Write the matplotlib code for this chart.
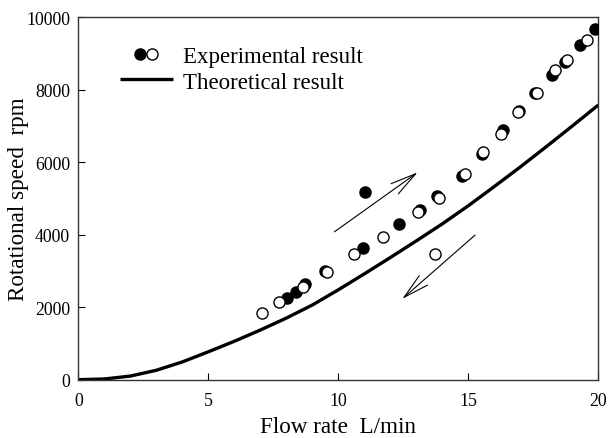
import matplotlib
matplotlib.use("Agg")
import matplotlib.pyplot as plt
from matplotlib.legend_handler import HandlerTuple
from matplotlib.lines import Line2D

plt.rcParams['font.family'] = ['Liberation Serif', 'DejaVu Serif']

# Theoretical result (curve)
theory_x = [0, 1, 2, 3, 4, 5, 6, 7, 8, 9, 10, 11, 12, 13, 14, 15, 16, 17, 18, 19, 20]
theory_y = [0, 20, 100, 260, 490, 770, 1060, 1370, 1700, 2060, 2480, 2920,
            3370, 3830, 4300, 4800, 5330, 5870, 6430, 7000, 7580]

# Experimental result (filled markers)
filled_x = [8.01, 8.36, 8.72, 9.47, 10.96, 11.03, 12.33, 13.14, 13.81, 14.75,
            15.52, 16.35, 16.96, 17.58, 18.21, 18.72, 19.30, 19.87]
filled_y = [2250, 2430, 2640, 2990, 3640, 5170, 4310, 4690, 5060, 5630,
            6230, 6900, 7420, 7920, 8410, 8780, 9240, 9680]

# Experimental result (open markers)
open_x = [7.05, 7.73, 8.63, 9.55, 10.62, 11.71, 13.08, 13.72, 13.88, 14.87,
          15.58, 16.25, 16.92, 17.63, 18.33, 18.78, 19.55]
open_y = [1840, 2140, 2560, 2970, 3470, 3930, 4620, 3480, 5010, 5680,
          6270, 6780, 7380, 7900, 8550, 8820, 9370]

# Direction arrows (tail -> head)
arrow_up = ((9.85, 4080), (13.05, 5720))
arrow_down = ((15.26, 3990), (12.46, 2230))

x_ticks = [0, 5, 10, 15, 20]
y_ticks = [0, 2000, 4000, 6000, 8000, 10000]

fig = plt.figure(figsize=(6.09, 4.39), dpi=100)
ax = fig.add_axes([0.1286, 0.1328, 0.8538, 0.8255])

line, = ax.plot(theory_x, theory_y, color='black', lw=2.4, zorder=2,
                solid_capstyle='butt')
f = ax.plot(filled_x, filled_y, 'o', ms=8, mfc='black', mec='black', mew=1.0,
            zorder=3, linestyle='none')[0]
o = ax.plot(open_x, open_y, 'o', ms=8, mfc='white', mec='black', mew=1.0,
            zorder=4, linestyle='none')[0]

for (tail, head) in (arrow_up, arrow_down):
    ax.annotate('', xy=head, xytext=tail,
                arrowprops=dict(arrowstyle='->,head_length=1.85,head_width=0.45',
                                lw=0.8, color='black', mutation_scale=10,
                                shrinkA=0, shrinkB=0))

ax.set_xlim(0, 20)
ax.set_ylim(0, 10000)
ax.set_xticks(x_ticks)
ax.set_yticks(y_ticks)
ax.tick_params(direction='in', length=5, width=0.8, labelsize=12.8, colors='black')
ax.tick_params(axis='x', pad=9)
ax.tick_params(axis='y', pad=6)
for s in ax.spines.values():
    s.set_linewidth(1.0)
    s.set_color('#333333')

ax.set_xlabel('Flow rate  L/min', fontsize=16.7, labelpad=5)
ax.set_ylabel('Rotational speed  rpm', fontsize=16.7, labelpad=-2)

fh = Line2D([], [], marker='o', ls='none', ms=8, mfc='black', mec='black')
oh = Line2D([], [], marker='o', ls='none', ms=8, mfc='white', mec='black')
ax.legend([(fh, oh), line], ['Experimental result', 'Theoretical result'],
          handler_map={tuple: HandlerTuple(ndivide=None, pad=-1.26)},
          loc='upper left', bbox_to_anchor=(0.080, 0.92), borderaxespad=0,
          borderpad=0, frameon=False, fontsize=16.5, handlelength=2.3,
          handletextpad=0.44, labelspacing=0.18)

fig.savefig('out.png', dpi=100)
